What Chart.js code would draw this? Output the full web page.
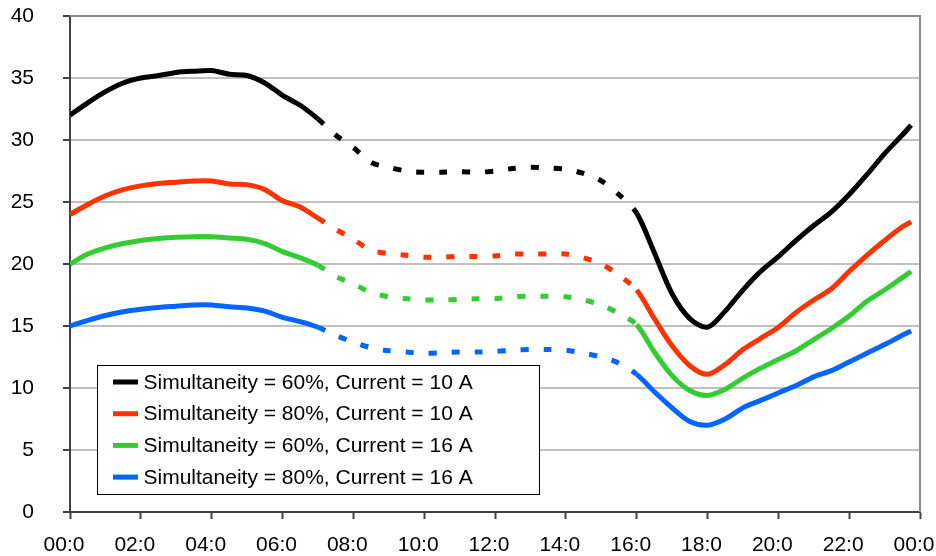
<!DOCTYPE html>
<html>
<head>
<meta charset="utf-8">
<script src="https://cdn.jsdelivr.net/npm/chart.js@4.4.1/dist/chart.umd.min.js"></script>
<style>
html,body{margin:0;padding:0;background:#fff;}
#wrap{width:936px;height:556px;}
</style>
</head>
<body>
<div id="wrap"><canvas id="c" width="936" height="556"></canvas></div>
<script>
// Hours of day (x values)
const hours = [0,0.5,1,1.5,2,2.5,3,3.5,4,4.5,5,5.5,6,6.5,7,7.5,8,8.5,9,9.5,10,10.5,11,11.5,12,12.5,13,13.5,14,14.5,15,15.5,16,16.5,17,17.5,18,18.5,19,19.5,20,20.5,21,21.5,22,22.5,23,23.5,23.75];

const seriesLabels = [
  "Simultaneity = 60%, Current = 10 A",
  "Simultaneity = 80%, Current = 10 A",
  "Simultaneity = 60%, Current = 16 A",
  "Simultaneity = 80%, Current = 16 A"
];

const s60_10A = [32.0,33.0,33.9,34.6,35.0,35.2,35.45,35.55,35.6,35.3,35.2,34.6,33.6,32.8,31.7,30.4,29.4,28.2,27.8,27.5,27.4,27.4,27.45,27.4,27.5,27.7,27.8,27.75,27.65,27.3,26.7,25.6,24.1,20.9,17.6,15.6,14.9,16.2,17.9,19.4,20.6,21.9,23.1,24.2,25.6,27.2,28.9,30.4,31.2];
const s80_10A = [24.0,24.8,25.5,26.0,26.3,26.5,26.6,26.7,26.7,26.45,26.4,26.0,25.1,24.6,23.7,22.8,22.0,21.1,20.85,20.7,20.55,20.55,20.6,20.6,20.65,20.8,20.8,20.8,20.8,20.5,20.0,19.1,17.9,15.6,13.4,11.8,11.1,11.9,13.1,14.0,14.9,16.1,17.1,18.0,19.4,20.7,21.9,23.0,23.4];
const s60_16A = [20.0,20.8,21.3,21.65,21.9,22.05,22.15,22.2,22.2,22.1,22.0,21.65,21.0,20.5,19.9,19.0,18.4,17.7,17.35,17.2,17.1,17.1,17.15,17.2,17.2,17.35,17.4,17.4,17.35,17.1,16.7,16.0,15.1,12.9,11.0,9.8,9.4,9.9,10.8,11.6,12.3,13.0,13.9,14.8,15.8,17.0,17.9,18.9,19.4];
const s80_16A = [15.0,15.45,15.85,16.15,16.35,16.5,16.6,16.7,16.7,16.55,16.45,16.2,15.7,15.35,14.9,14.25,13.7,13.25,13.0,12.9,12.8,12.85,12.9,12.9,12.95,13.05,13.1,13.1,13.05,12.8,12.5,12.0,11.1,9.7,8.4,7.3,7.0,7.5,8.4,9.0,9.6,10.2,10.9,11.4,12.1,12.8,13.5,14.25,14.6];

const xTickLabels = ["00:0","02:0","04:0","06:0","08:0","10:0","12:0","14:0","16:0","18:0","20:0","22:0","00:0"];
const yTicks = [0,5,10,15,20,25,30,35,40];

const colors = ["#000000","#ff3300","#33cc33","#0066ff"];
const allSeries = [s60_10A, s80_10A, s60_16A, s80_16A];

const FONT = "'Liberation Sans', Arial, sans-serif";

function pts(vals){ return hours.map((h,i)=>({x:h,y:vals[i]})); }

const datasets = allSeries.map((vals,i)=>({
  label: seriesLabels[i],
  data: pts(vals),
  borderColor: colors[i],
  backgroundColor: colors[i],
  borderWidth: 5,
  pointRadius: 0,
  tension: 0.3,
  borderCapStyle: 'butt',
  fill: false,
  segment: {
    borderDash: ctx => (ctx.p0.parsed.x >= 7 && ctx.p1.parsed.x <= 16) ? [8,15] : undefined
  }
}));

const legendBox = {
  id: 'legendBox',
  afterDraw(chart){
    const ctx = chart.ctx, a = chart.chartArea;
    const left = a.left + 27, top = a.bottom - 147, w = 442, h = 129;
    ctx.save();
    ctx.fillStyle = '#fff';
    ctx.fillRect(left, top, w, h);
    ctx.strokeStyle = '#000';
    ctx.lineWidth = 1;
    ctx.strokeRect(left+0.5, top+0.5, w, h);
    ctx.font = "21px " + FONT;
    ctx.textBaseline = 'middle';
    ctx.textAlign = 'left';
    chart.data.datasets.forEach((ds,i)=>{
      const cy = top + 17 + i*31.7;
      ctx.fillStyle = ds.borderColor;
      ctx.fillRect(left+16, cy-2.5, 25, 5);
      ctx.fillStyle = '#000';
      ctx.fillText(ds.label, left+46.5, cy+1);
    });
    ctx.restore();
  }
};

const frame = {
  id: 'frame',
  beforeDatasetsDraw(chart){
    const ctx = chart.ctx, a = chart.chartArea;
    ctx.save();
    ctx.strokeStyle = '#8c8c8c';
    ctx.lineWidth = 2;
    ctx.beginPath();
    ctx.moveTo(a.left, a.top);
    ctx.lineTo(a.right, a.top);
    ctx.lineTo(a.right, a.bottom);
    ctx.stroke();
    ctx.restore();
  }
};

new Chart(document.getElementById('c'), {
  type: 'line',
  data: { datasets },
  plugins: [frame, legendBox],
  options: {
    responsive: false,
    animation: false,
    layout: { padding: { left: 0, top: 16, right: 16, bottom: 0 } },
    plugins: { legend: { display: false }, tooltip: { enabled: false } },
    scales: {
      x: {
        type: 'linear',
        min: 0, max: 24,
        afterBuildTicks: s => { s.ticks = xTickLabels.map((_,i)=>({value:i*2})); },
        afterFit: s => { s.height = 44; s.paddingLeft = 0; s.paddingRight = 0; },
        ticks: {
          callback: (v) => xTickLabels[Math.round(v/2)],
          font: { family: FONT, size: 21 },
          color: '#000',
          padding: 14,
          labelOffset: -6,
          maxRotation: 0,
          autoSkip: false
        },
        grid: { drawOnChartArea: false, drawTicks: true, tickLength: 7, tickColor: '#404040', tickWidth: 2 },
        border: { color: '#404040', width: 2 }
      },
      y: {
        min: 0, max: 40,
        afterBuildTicks: s => { s.ticks = yTicks.map(v=>({value:v})); },
        afterFit: s => { s.width = 70; s.paddingTop = 0; s.paddingBottom = 0; },
        ticks: {
          font: { family: FONT, size: 21 },
          color: '#000',
          padding: 29
        },
        grid: { color: '#c0c0c0', lineWidth: 2, drawTicks: true, tickLength: 7, tickColor: '#404040', tickWidth: 2 },
        border: { color: '#404040', width: 2 }
      }
    }
  }
});
</script>
</body>
</html>
